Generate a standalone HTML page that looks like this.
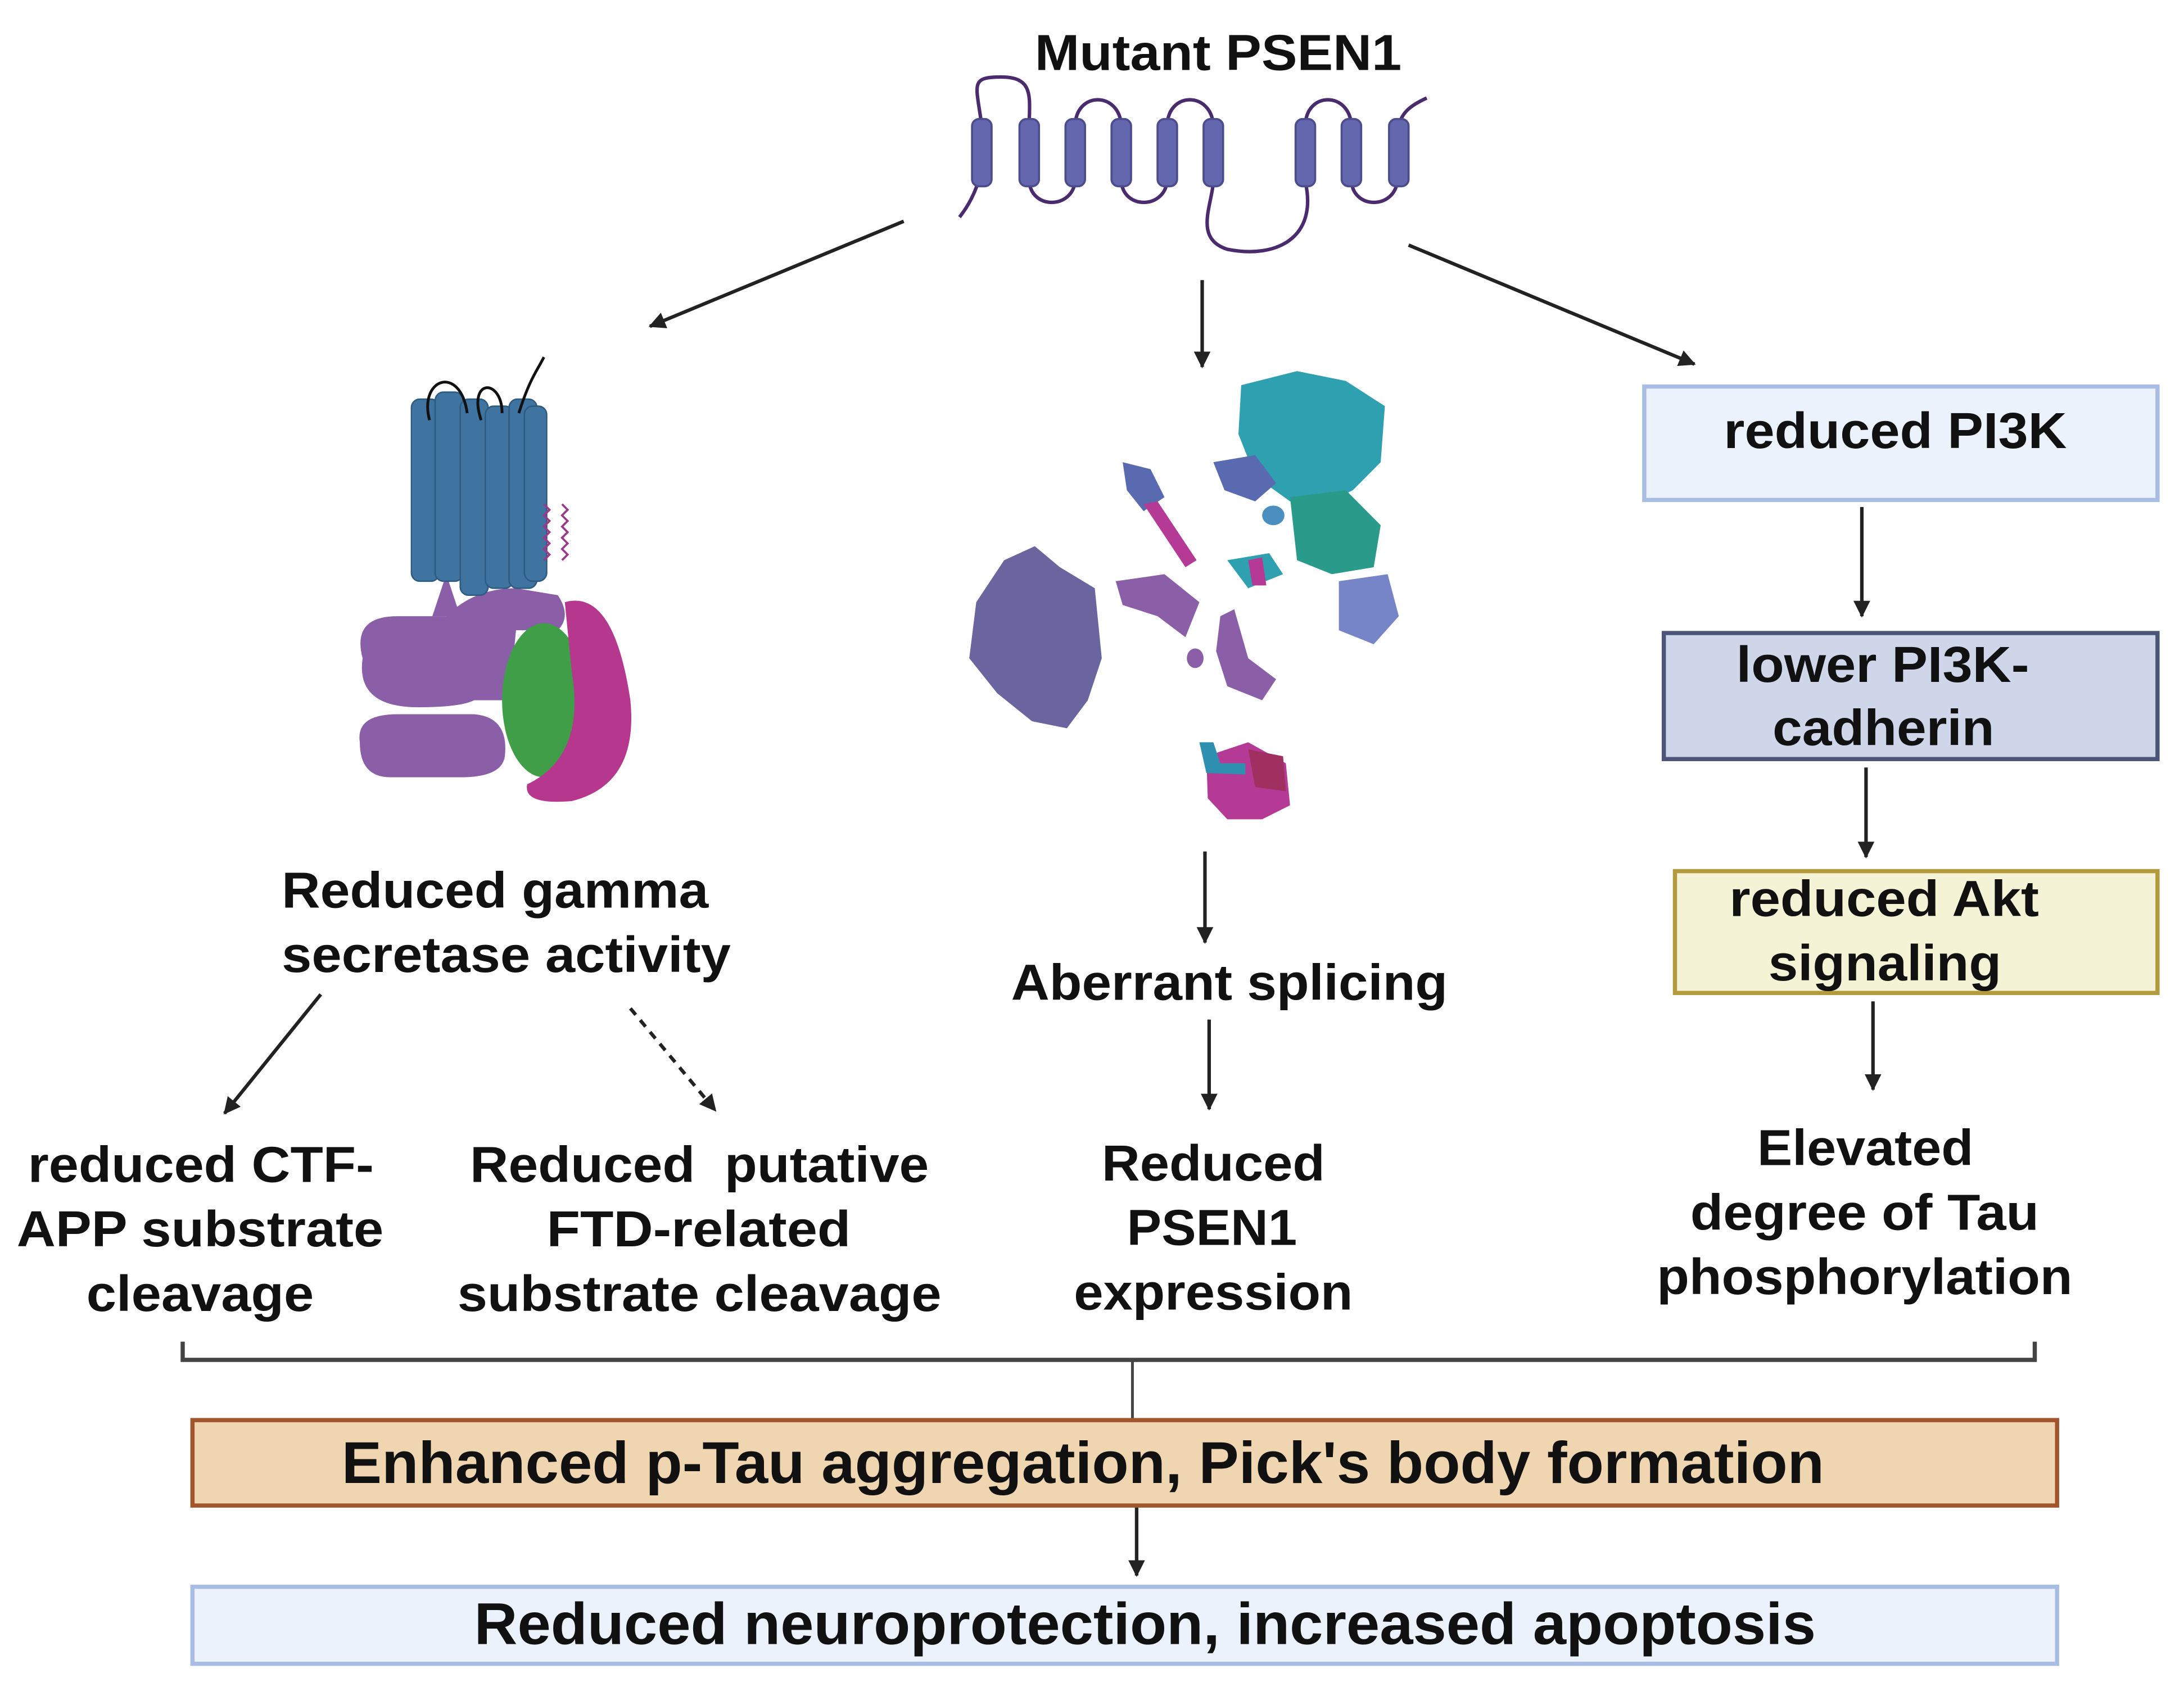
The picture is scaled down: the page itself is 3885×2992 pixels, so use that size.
<!DOCTYPE html>
<html><head><meta charset="utf-8"><style>
html,body{margin:0;padding:0;background:#fff}
svg{display:block}
text{font-family:"Liberation Sans",sans-serif;font-weight:bold;fill:#111}
</style></head><body>
<svg width="3885" height="2992" viewBox="0 0 1566 1201" preserveAspectRatio="none" xmlns="http://www.w3.org/2000/svg">
<defs>
<marker id="ah" markerWidth="12" markerHeight="12" refX="11" refY="6" orient="auto" markerUnits="userSpaceOnUse"><path d="M0,0 L12,6 L0,12 Z" fill="#222"/></marker>
</defs>
<rect width="1566" height="1201" fill="#fff"/>

<!-- Mutant PSEN1 -->
<text x="742" y="50" font-size="36" textLength="263" lengthAdjust="spacingAndGlyphs">Mutant PSEN1</text>
<g fill="none" stroke="#4a2c6e" stroke-width="2.5">
<path d="M688,155 Q700,140 704,120"/>
<path d="M704,90 C700,60 695,55 718,55 C742,55 738,70 738,90"/>
<path d="M738,128 C738,150 770,150 771,128"/>
<path d="M771,90 C771,65 803,65 804,90"/>
<path d="M804,128 C804,150 836,150 837,128"/>
<path d="M837,90 C837,65 869,65 870,90"/>
<path d="M870,128 C870,145 855,170 880,178 C915,185 945,170 936,130"/>
<path d="M936,90 C936,65 968,65 969,90"/>
<path d="M969,128 C969,150 1001,150 1002,128"/>
<path d="M1003,90 C1005,80 1012,75 1023,70"/>
</g>
<g fill="#6567ae" stroke="#4b4d8c" stroke-width="1.5">
<rect x="697" y="85" width="14" height="48" rx="5"/>
<rect x="731" y="85" width="14" height="48" rx="5"/>
<rect x="764" y="85" width="14" height="48" rx="5"/>
<rect x="797" y="85" width="14" height="48" rx="5"/>
<rect x="830" y="85" width="14" height="48" rx="5"/>
<rect x="863" y="85" width="14" height="48" rx="5"/>
<rect x="929" y="85" width="14" height="48" rx="5"/>
<rect x="962" y="85" width="14" height="48" rx="5"/>
<rect x="996" y="85" width="14" height="48" rx="5"/>
</g>

<g stroke="#222" stroke-width="2.5" fill="none" marker-end="url(#ah)">
<line x1="648" y1="158" x2="466" y2="233"/>
<line x1="862" y1="200" x2="862" y2="262"/>
<line x1="1010" y1="175" x2="1215" y2="260"/>
<line x1="1335" y1="362" x2="1335" y2="440"/>
<line x1="1338" y1="548" x2="1338" y2="612"/>
<line x1="1343" y1="715" x2="1343" y2="778"/>
<line x1="230" y1="710" x2="161" y2="795"/>
<line x1="452" y1="720" x2="513" y2="793" stroke-dasharray="6,5"/>
<line x1="864" y1="608" x2="864" y2="673"/>
<line x1="867" y1="728" x2="867" y2="792"/>
<line x1="815" y1="1075" x2="815" y2="1125"/>
</g>

<!-- gamma secretase illustration -->
<g>
<path d="M320,410 L330,440 L310,440 Z" fill="#8b5fa8"/>
<path d="M260,470 Q252,440 285,440 L320,440 Q340,420 370,420 L400,425 Q410,440 400,450 L370,450 L365,500 L340,500 Q330,505 300,505 Q255,505 260,470 Z" fill="#8b5fa8"/>
<path d="M258,530 Q255,510 285,510 L340,510 Q365,512 362,540 Q360,555 330,555 L280,555 Q258,555 258,530 Z" fill="#8b5fa8"/>
<ellipse cx="390" cy="500" rx="30" ry="55" fill="#3f9e47"/>
<path d="M405,430 Q440,420 452,500 Q458,560 410,572 Q375,575 378,560 Q420,540 410,480 Z" fill="#b5378e"/>
<g fill="#3f74a0" stroke="#2c5a80" stroke-width="1">
<rect x="295" y="285" width="20" height="130" rx="6"/>
<rect x="312" y="280" width="20" height="135" rx="6"/>
<rect x="330" y="285" width="20" height="140" rx="6"/>
<rect x="348" y="290" width="20" height="130" rx="6"/>
<rect x="365" y="285" width="20" height="135" rx="6"/>
<rect x="376" y="290" width="16" height="125" rx="6"/>
</g>
<path d="M308,300 C300,270 330,260 335,295 M345,300 C335,270 360,270 360,295 M372,295 C380,270 385,265 390,255" fill="none" stroke="#111" stroke-width="2"/>
<path d="M390,360 l4,4 -4,4 4,4 -4,4 4,4 -4,4 4,4 -4,4 4,4 -4,4 M403,360 l4,4 -4,4 4,4 -4,4 4,4 -4,4 4,4 -4,4 4,4 -4,4" fill="none" stroke="#9a3a8a" stroke-width="1.5"/>
</g>

<!-- center protein fragments -->
<g>
<path d="M700,430 L720,400 L742,390 L760,405 L785,420 L790,470 L780,500 L765,520 L740,515 L715,495 L695,470 Z" fill="#6a659e"/>
<path d="M890,275 L930,265 L965,272 L993,290 L990,330 L970,350 L950,360 L925,358 L900,340 L888,310 Z" fill="#2fa0b0"/>
<path d="M925,355 L965,350 L990,375 L985,405 L955,410 L930,400 Z" fill="#2a9a8a"/>
<path d="M870,330 L900,325 L915,345 L900,358 L878,350 Z" fill="#5a6ab0"/>
<path d="M960,415 L995,410 L1003,440 L985,460 L960,450 Z" fill="#7585c8"/>
<path d="M805,330 L825,335 L835,355 L820,365 L808,350 Z" fill="#5a6ab0"/>
<path d="M820,360 L830,358 L858,400 L850,405 Z" fill="#b53a96"/>
<path d="M800,415 L835,410 L860,430 L850,455 L830,440 L805,432 Z" fill="#8b5fa8"/>
<path d="M875,440 L885,435 L895,470 L915,485 L905,500 L880,490 L872,465 Z" fill="#8b5fa8"/>
<path d="M880,400 L910,395 L920,410 L895,420 Z" fill="#2fa0b0"/>
<path d="M895,400 L905,398 L908,418 L898,418 Z" fill="#b53a96"/>
<ellipse cx="913" cy="368" rx="8" ry="7" fill="#4a8fc0"/>
<ellipse cx="857" cy="470" rx="6" ry="7" fill="#8b5fa8"/>
<path d="M865,540 L895,530 L922,545 L925,575 L905,585 L880,585 L866,570 Z" fill="#b53a96"/>
<path d="M895,535 L920,540 L922,565 L900,562 Z" fill="#a03060"/>
<path d="M860,530 L870,530 L875,545 L893,545 L893,553 L865,552 Z" fill="#2f8fb0"/>
</g>

<!-- right column boxes -->
<rect x="1179" y="276" width="368" height="81" fill="#ebf2fb" stroke="#a9bde4" stroke-width="3"/>
<text x="1236" y="320" font-size="36" textLength="246" lengthAdjust="spacingAndGlyphs">reduced PI3K</text>
<rect x="1193" y="452" width="354" height="90" fill="#cfd6ea" stroke="#4a5578" stroke-width="3"/>
<text x="1245" y="487" font-size="36" textLength="210" lengthAdjust="spacingAndGlyphs">lower PI3K-</text>
<text x="1271" y="532" font-size="36" textLength="159" lengthAdjust="spacingAndGlyphs">cadherin</text>
<rect x="1201" y="622" width="346" height="87" fill="#f5f3d6" stroke="#b39a3c" stroke-width="3"/>
<text x="1240" y="654" font-size="36" textLength="222" lengthAdjust="spacingAndGlyphs">reduced Akt</text>
<text x="1268" y="700" font-size="36" textLength="167" lengthAdjust="spacingAndGlyphs">signaling</text>
<text x="1260" y="832" font-size="36" textLength="155" lengthAdjust="spacingAndGlyphs">Elevated</text>
<text x="1212" y="878" font-size="36" textLength="250" lengthAdjust="spacingAndGlyphs">degree of Tau</text>
<text x="1188" y="924" font-size="36" textLength="298" lengthAdjust="spacingAndGlyphs">phosphorylation</text>

<!-- left text -->
<text x="202" y="648" font-size="36" textLength="306" lengthAdjust="spacingAndGlyphs">Reduced gamma</text>
<text x="202" y="694" font-size="36" textLength="322" lengthAdjust="spacingAndGlyphs">secretase activity</text>
<text x="20" y="844" font-size="36" textLength="248" lengthAdjust="spacingAndGlyphs">reduced CTF-</text>
<text x="12" y="890" font-size="36" textLength="263" lengthAdjust="spacingAndGlyphs">APP substrate</text>
<text x="62" y="936" font-size="36" textLength="163" lengthAdjust="spacingAndGlyphs">cleavage</text>
<text x="337" y="844" font-size="36" textLength="329" lengthAdjust="spacingAndGlyphs" xml:space="preserve">Reduced  putative</text>
<text x="392" y="890" font-size="36" textLength="218" lengthAdjust="spacingAndGlyphs">FTD-related</text>
<text x="328" y="936" font-size="36" textLength="347" lengthAdjust="spacingAndGlyphs">substrate cleavage</text>

<!-- center text -->
<text x="725" y="714" font-size="36" textLength="313" lengthAdjust="spacingAndGlyphs">Aberrant splicing</text>
<text x="790" y="843" font-size="36" textLength="160" lengthAdjust="spacingAndGlyphs">Reduced</text>
<text x="808" y="889" font-size="36" textLength="122" lengthAdjust="spacingAndGlyphs">PSEN1</text>
<text x="770" y="935" font-size="36" textLength="200" lengthAdjust="spacingAndGlyphs">expression</text>

<!-- bracket -->
<path d="M131,958 L131,971 L1459,971 L1459,958" fill="none" stroke="#444" stroke-width="3"/>
<line x1="812" y1="971" x2="812" y2="1013" stroke="#444" stroke-width="2"/>

<rect x="138" y="1014" width="1337" height="61" fill="#efd5b0" stroke="#a0552a" stroke-width="3"/>
<text x="245" y="1059" font-size="42" textLength="1063" lengthAdjust="spacingAndGlyphs">Enhanced p-Tau aggregation, Pick's body formation</text>
<rect x="138" y="1133" width="1337" height="55" fill="#ebf2fb" stroke="#a9bde4" stroke-width="3"/>
<text x="340" y="1174" font-size="42" textLength="962" lengthAdjust="spacingAndGlyphs">Reduced neuroprotection, increased apoptosis</text>
</svg>
</body></html>
